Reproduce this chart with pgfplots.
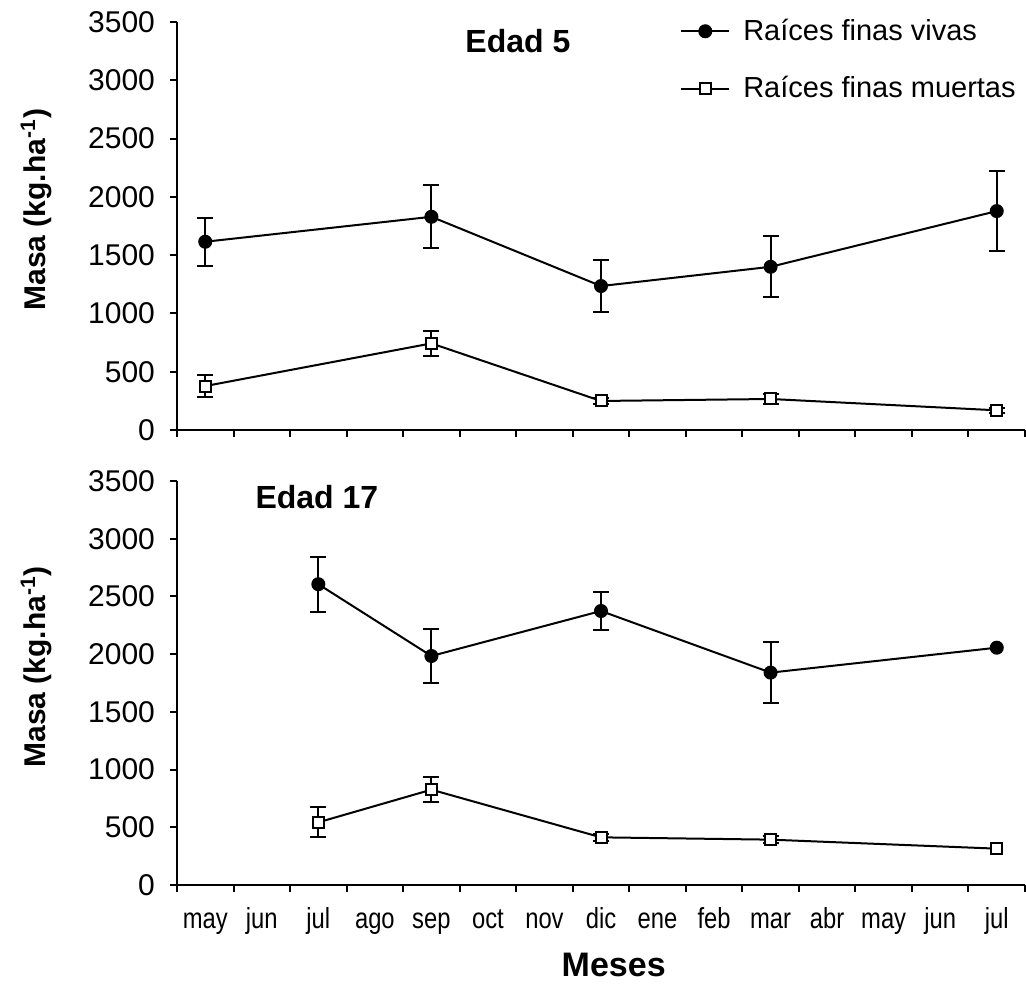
\documentclass[border=0pt]{standalone}
\usepackage{pgfplots}
\pgfplotsset{compat=1.18}
\usepackage{fontspec}
\setmainfont{Liberation Sans}
\newfontfamily\narrowfont[FakeStretch=0.82]{Liberation Sans}

\pgfplotstableread{
x y err
0.5 1615 205
4.5 1829 270
7.5 1235 220
10.5 1400 262
14.5 1878 345
}\topviv
\pgfplotstableread{
x y err
0.5 377 97
4.5 743 105
7.5 249 25
10.5 266 45
14.5 169 22
}\topmue
\pgfplotstableread{
x y err
2.5 2606 240
4.5 1984 231
7.5 2374 165
10.5 1840 264
}\botvivE
\pgfplotstableread{
x y
2.5 2606
4.5 1984
7.5 2374
10.5 1840
14.5 2056
}\botviv
\pgfplotstableread{
x y err
2.5 543 130
4.5 826 108
7.5 413 30
10.5 393 30
}\botmueE
\pgfplotstableread{
x y
2.5 543
4.5 826
7.5 413
10.5 393
14.5 315
}\botmue

\pgfplotsset{
  panel/.style={
    scale only axis, width=424pt, height=203pt,
    xmin=0, xmax=15, ymin=0, ymax=3500,
    enlargelimits=false,
    axis lines=left, axis line style={-, line width=1pt},
    tick style={line width=1pt, black},
    tick align=outside, major tick length=3.5pt,
    xtick={0,...,15}, x tick label as interval,
    ytick={0,500,...,3500},
    /pgf/number format/assume math mode=true,
    /pgf/number format/1000 sep={},
    scaled ticks=false,
    yticklabel style={font=\fontsize{15}{18}\selectfont, xshift=-4pt},
    xticklabel style={font=\narrowfont\fontsize{14.5}{17}\selectfont, text height=0.75em, text depth=0.22em, yshift=-7pt},
    ylabel={\bfseries Masa (kg.ha\textsuperscript{-1})},
    ylabel style={font=\fontsize{15}{18}\selectfont, at={(axis description cs:-0.166,0.54)}, anchor=center},
    clip=false,
  },
  errs/.style={draw=none, mark=none, forget plot,
    error bars/.cd, y dir=both, y explicit,
    error bar style={draw=black, line width=1pt},
    error mark options={draw=black, rotate=90, mark size=4pt, line width=1pt}},
  viv/.style={black, line width=1pt, mark=*, mark size=3pt, mark options={fill=black}},
  mue/.style={black, line width=1pt, mark=square*, mark size=2.75pt, mark options={fill=white, line width=1pt}},
}

\begin{document}
\begin{tikzpicture}
\useasboundingbox (0,0) rectangle (513pt,493.5pt);
% top panel
\begin{axis}[panel, at={(88.5pt,278.5pt)}, anchor=south west, height=204pt,
  xticklabels={},
  legend style={at={(axis description cs:0.593,0.907)}, anchor=west, draw=none, fill=none,
    font=\fontsize{14.5}{17}\selectfont, row sep=16.5pt, inner sep=0pt,
    nodes={inner sep=0pt, anchor=west},
    /tikz/every odd column/.append style={column sep=6.5pt}},
  legend cell align=left,
  legend image code/.code={\draw[mark repeat=2, mark phase=2, #1] plot coordinates {(0pt,0pt) (12pt,0pt) (24pt,0pt)};},
]
\addplot[errs] table[x=x, y=y, y error=err] {\topviv};
\addplot[errs] table[x=x, y=y, y error=err] {\topmue};
\addplot[viv] table[x=x, y=y] {\topviv};
\addlegendentry{Raíces finas vivas}
\addplot[mue] table[x=x, y=y] {\topmue};
\addlegendentry{Raíces finas muertas}
\node[font=\fontsize{16}{19}\selectfont\bfseries] at (axis description cs:0.402,0.953) {Edad 5};
\end{axis}
% bottom panel
\begin{axis}[panel, at={(88.5pt,51pt)}, anchor=south west, height=202pt,
  xticklabels={may,jun,jul,ago,sep,oct,nov,dic,ene,feb,mar,abr,may,jun,jul},
  xlabel={\bfseries Meses},
  xlabel style={font=\fontsize{17}{20}\selectfont, at={(axis description cs:0.515,-0.198)}, anchor=center},
]
\addplot[errs] table[x=x, y=y, y error=err] {\botvivE};
\addplot[errs] table[x=x, y=y, y error=err] {\botmueE};
\addplot[viv] table[x=x, y=y] {\botviv};
\addplot[mue] table[x=x, y=y] {\botmue};
\node[font=\fontsize{16}{19}\selectfont\bfseries] at (axis description cs:0.165,0.960) {Edad 17};
\end{axis}
\end{tikzpicture}
\end{document}
